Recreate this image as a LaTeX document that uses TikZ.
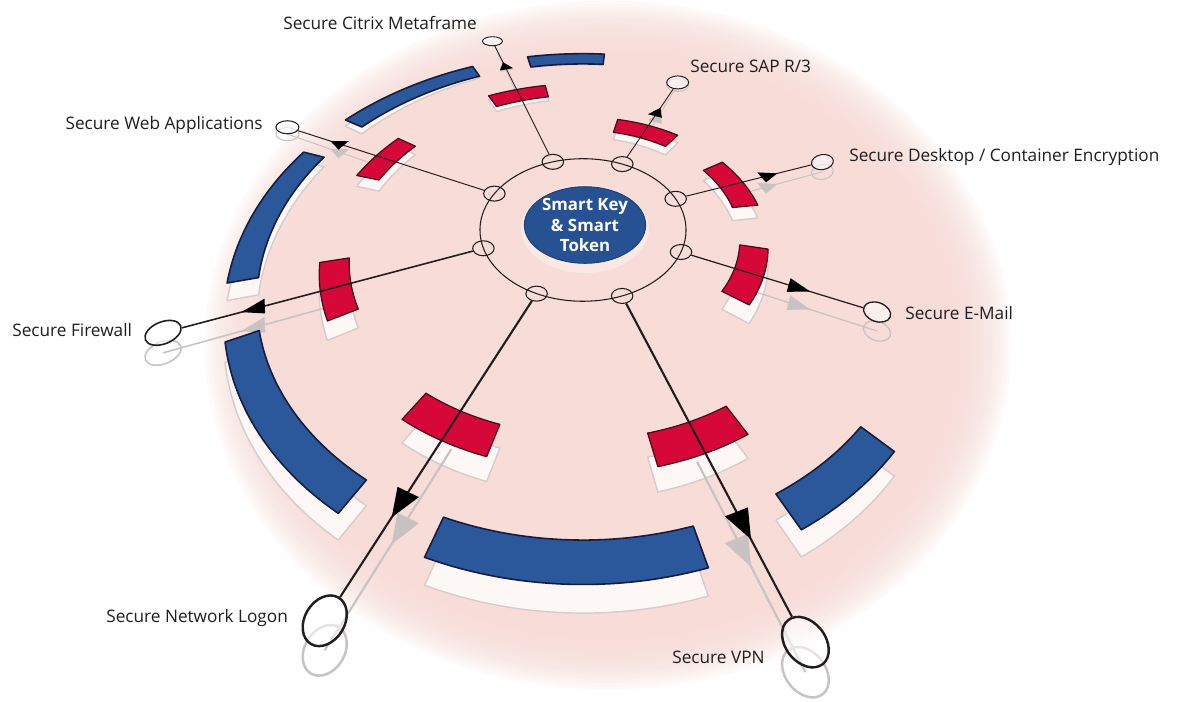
\documentclass[tikz,border=0pt]{standalone}
\usepackage{fontspec}
\setmainfont{Open Sans}
\usetikzlibrary{shapes.geometric}

\definecolor{discpink}{RGB}{248,220,216}
\definecolor{bandblue}{RGB}{43,88,154}
\definecolor{bandedge}{RGB}{22,28,62}
\definecolor{blockred}{RGB}{214,8,58}
\definecolor{blockedge}{RGB}{70,12,24}
\definecolor{hubblue}{RGB}{38,82,148}
\definecolor{hubedge}{RGB}{30,60,110}
\definecolor{shadowfill}{RGB}{253,247,246}
\definecolor{shadowedge}{RGB}{214,204,204}
\definecolor{shadowline}{RGB}{200,194,194}
\definecolor{wirecol}{RGB}{36,28,28}
\definecolor{labeltext}{RGB}{30,30,30}

% perspective view of the disc: radius r, angle t  ->  picture coordinates
\pgfmathdeclarefunction{discx}{2}{\pgfmathparse{583+320*#1*cos(#2)/(1+0.35*#1*sin(#2))}}
\pgfmathdeclarefunction{discy}{2}{\pgfmathparse{222-220*#1*sin(#2)/(1+0.35*#1*sin(#2))}}
% drop of a cast shadow below a raised part
\pgfmathdeclarefunction{discs}{2}{\pgfmathparse{max(0,14*(1-#1*sin(#2)))}}

% annular piece between radii #2..#3 and angles #4..#5
\newcommand\ringpart[5]{%
  \path[#1] plot[domain=#4:#5,samples=30,variable=\ww] ({discx(#3,\ww)},{discy(#3,\ww)})
    -- plot[domain=#5:#4,samples=30,variable=\ww] ({discx(#2,\ww)},{discy(#2,\ww)}) -- cycle;}
% its shadow on the disc
\newcommand\ringshade[5]{%
  \path[#1] plot[domain=#4:#5,samples=30,variable=\ww] ({discx(#3,\ww)},{discy(#3,\ww)+discs(#3,\ww)})
    -- plot[domain=#5:#4,samples=30,variable=\ww] ({discx(#2,\ww)},{discy(#2,\ww)+discs(#2,\ww)}) -- cycle;}

\newcommand\labelfont{\fontsize{9.8pt}{11.5pt}\selectfont}
\newcommand\hubfont{\fontsize{9.6pt}{11.9pt}\selectfont\bfseries}

% index / angle / end radius / block radius / arrow tip radius / wire width /
% end ring width / end ring height / end ring turn / end ring line width
\def\spokelist{%
 1/109/1.22/0.765/1.03/0.5/0.40/0.18/0/0.5,
 2/65/0.90/0.53/0.70/0.5/0.44/0.26/0/0.55,
 3/20/0.88/0.525/0.70/0.55/0.44/0.30/10/0.6,
 4/336/0.88/0.525/0.70/0.7/0.56/0.38/-20/0.75,
 5/290/1.218/0.776/1.02/1.2/1.12/0.80/-52/1.4,
 6/246/1.214/0.765/1.0/1.2/1.08/0.80/59/1.4,
 7/201/1.195/0.75/1.0/0.9/0.76/0.44/22/0.9,
 8/155/1.2/0.755/1.0/0.55/0.46/0.26/0/0.6}

\begin{document}
\begin{tikzpicture}[x=0.02cm,y=-0.02cm,
  ringnode/.style={ellipse,draw=wirecol,line width=0.6pt,minimum width=0.43cm,minimum height=0.3cm,inner sep=0pt},
  endring/.style={ellipse,draw=wirecol,fill=white,fill opacity=0.55,inner sep=0pt},
  endshadow/.style={ellipse,draw=shadowline,inner sep=0pt},
  band/.style={fill=bandblue,draw=bandedge,line width=0.9pt,line join=round},
  block/.style={fill=blockred,draw=blockedge,line width=0.7pt,line join=round},
  cast/.style={fill=shadowfill,draw=shadowedge,line width=0.8pt,line join=round},
  arrowcast/.style={fill=shadowline},
  svclabel/.style={font=\labelfont,text=labeltext,inner sep=0pt},
  hub/.style={ellipse,fill=hubblue,draw=hubedge,line width=0.5pt,minimum width=2.08cm,
    minimum height=1.42cm,inner sep=0pt,text=white,align=center,font=\hubfont}]

\useasboundingbox (0,0) rectangle (1178,701);
\fill[white] (0,0) rectangle (1178,701);

% pink disc: solid core, then translucent layers give a soft rim
\fill[discpink] (608,345) ellipse [x radius=322, y radius=272];
\foreach \k in {0,...,22}
  \fill[discpink,opacity=0.13] (608,345) ellipse [x radius={322+3.7*\k}, y radius={272+3.3*\k}];

% ---------- shadows on the disc ----------
\foreach \ba/\bb in {85/103,116/148,160/194,206/240,252/284,296/313}
  {\ringshade{cast}{0.96}{1.045}{\ba}{\bb}}

\foreach \n/\t/\re/\rb/\ra/\lw/\ew/\eh/\er/\elw in \spokelist {
  \pgfmathsetmacro\hw{6.3/\rb}
  \pgfmathsetmacro\angA{\t-\hw}
  \pgfmathsetmacro\angB{\t+\hw}
  \pgfmathsetmacro\rin{\rb-0.042}
  \pgfmathsetmacro\rout{\rb+0.042}
  \ringshade{cast}{\rin}{\rout}{\angA}{\angB}
  \draw[shadowline,line width=\lw pt] ({discx(\rb,\t)},{discy(\rb,\t)+discs(\rb,\t)})
     -- ({discx(\re,\t)},{discy(\re,\t)+discs(\re,\t)});
  \pgfmathsetmacro\rbase{\ra-0.06}
  \pgfmathsetmacro\dl{0.028/\rbase*57.296}
  \fill[arrowcast] ({discx(\ra,\t)},{discy(\ra,\t)+discs(\ra,\t)})
     -- ({discx(\rbase,\t-\dl)},{discy(\rbase,\t-\dl)+discs(\rbase,\t-\dl)})
     -- ({discx(\rbase,\t+\dl)},{discy(\rbase,\t+\dl)+discs(\rbase,\t+\dl)}) -- cycle;
  \node[endshadow,minimum width=\ew cm,minimum height=\eh cm,rotate=\er,line width=\elw pt]
     (s\n) at ({discx(\re,\t)},{discy(\re,\t)+discs(\re,\t)}) {};
}

% ---------- inner ring ----------
\draw[wirecol,line width=0.6pt] plot[domain=0:360,samples=100,variable=\ww]
   ({discx(0.32,\ww)},{discy(0.32,\ww)}) -- cycle;

% ---------- outer blue segments ----------
\foreach \ba/\bb in {85/103,116/148,160/194,206/240,252/284,296/313}
  {\ringpart{band}{0.96}{1.045}{\ba}{\bb}}

% ---------- spokes ----------
\foreach \n/\t/\re/\rb/\ra/\lw/\ew/\eh/\er/\elw in \spokelist {
  \pgfmathsetmacro\hw{6.3/\rb}
  \pgfmathsetmacro\angA{\t-\hw}
  \pgfmathsetmacro\angB{\t+\hw}
  \pgfmathsetmacro\rin{\rb-0.042}
  \pgfmathsetmacro\rout{\rb+0.042}
  \ringpart{block}{\rin}{\rout}{\angA}{\angB}
  \node[ringnode] (n\n) at ({discx(0.32,\t)},{discy(0.32,\t)}) {};
  \node[endring,minimum width=\ew cm,minimum height=\eh cm,rotate=\er,line width=\elw pt]
     (e\n) at ({discx(\re,\t)},{discy(\re,\t)}) {};
  \draw[wirecol,line width=\lw pt] (n\n) -- (e\n);
  \pgfmathsetmacro\rbase{\ra-0.06}
  \pgfmathsetmacro\dl{0.028/\rbase*57.296}
  \fill[black] ({discx(\ra,\t)},{discy(\ra,\t)})
     -- ({discx(\rbase,\t-\dl)},{discy(\rbase,\t-\dl)})
     -- ({discx(\rbase,\t+\dl)},{discy(\rbase,\t+\dl)}) -- cycle;
}

% ---------- hub ----------
\fill[white,opacity=0.35] (585,229) ellipse [x radius=64, y radius=44];
\node[hub] (hub) at (585,225) {Smart Key\\\& Smart\\Token};

% ---------- labels ----------
\node[svclabel,anchor=west] (l1) at (283,23)  {Secure Citrix Metaframe};
\node[svclabel,anchor=west] (l2) at (690,66)  {Secure SAP R/3};
\node[svclabel,anchor=west] (l3) at (849,157) {Secure Desktop / Container Encryption};
\node[svclabel,anchor=west] (l4) at (905,313) {Secure E-Mail};
\node[svclabel,anchor=west] (l5) at (672,657) {Secure VPN};
\node[svclabel,anchor=west] (l6) at (106,618) {Secure Network Logon};
\node[svclabel,anchor=west] (l7) at (12,330)  {Secure Firewall};
\node[svclabel,anchor=east] (l8) at (263,125) {Secure Web Applications};
\end{tikzpicture}
\end{document}
